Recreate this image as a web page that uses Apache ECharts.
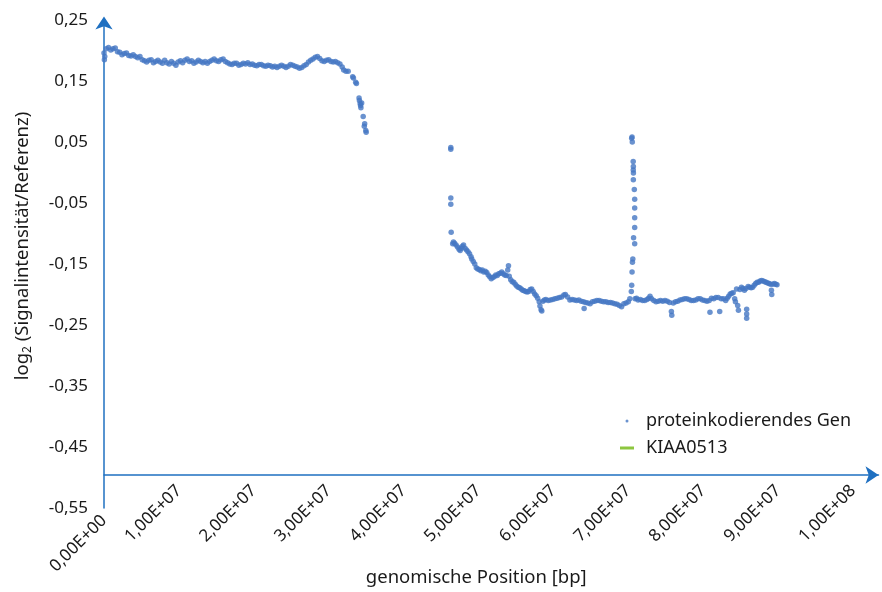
<!DOCTYPE html>
<html><head><meta charset="utf-8">
<script src="https://cdn.jsdelivr.net/npm/echarts@6/dist/echarts.min.js"></script>
<style>html,body{margin:0;padding:0;background:#fff}#c{width:882px;height:592px}</style>
</head><body><div id="c"></div>
<script>
// positions in Mb, values log2 ratio
const posTop = [0.0,0.05,0.1,0.3,0.6,0.9,1.2,1.5,1.8,2.1,2.4,2.7,3.0,3.3,3.6,3.9,4.2,4.5,4.8,5.1,5.4,5.7,6.0,6.3,6.6,6.9,7.2,7.5,7.8,8.1,8.4,8.7,9.0,9.3,9.6,9.9,10.2,10.5,10.8,11.1,11.4,11.7,12.0,12.3,12.6,12.9,13.2,13.5,13.8,14.1,14.4,14.7,15.0,15.3,15.6,15.9,16.2,16.5,16.8,17.1,17.4,17.7,18.0,18.3,18.6,18.9,19.2,19.5,19.8,20.1,20.4,20.7,21.0,21.3,21.6,21.9,22.2,22.5,22.8,23.1,23.4,23.7,24.0,24.3,24.6,24.9,25.2,25.5,25.8,26.1,26.4,26.7,27.0,27.3,27.6,27.9,28.2,28.5,28.8,29.1,29.4,29.7,30.0,30.3,30.6,30.9,31.2,31.5,31.8,32.0,32.3,32.6];
const valTop = [0.196,0.185,0.190,0.203,0.205,0.201,0.203,0.204,0.198,0.197,0.193,0.195,0.196,0.192,0.191,0.193,0.190,0.188,0.190,0.185,0.183,0.181,0.184,0.185,0.180,0.182,0.184,0.181,0.179,0.184,0.180,0.178,0.182,0.179,0.176,0.181,0.183,0.180,0.184,0.186,0.182,0.183,0.179,0.181,0.184,0.182,0.180,0.182,0.179,0.182,0.184,0.186,0.183,0.182,0.185,0.186,0.182,0.180,0.178,0.177,0.179,0.179,0.176,0.177,0.179,0.178,0.180,0.177,0.178,0.176,0.175,0.177,0.177,0.175,0.174,0.176,0.175,0.173,0.174,0.172,0.174,0.176,0.174,0.172,0.174,0.177,0.176,0.174,0.173,0.171,0.172,0.175,0.177,0.181,0.184,0.186,0.189,0.190,0.187,0.183,0.182,0.184,0.185,0.182,0.181,0.182,0.180,0.178,0.173,0.168,0.166,0.166];
const posDrop = [33.2,33.3,33.6,33.7,34.05,34.1,34.2,34.25,34.3,34.4,34.6,34.75,34.8,34.95,35.0];
const valDrop = [0.157,0.155,0.148,0.146,0.122,0.118,0.113,0.110,0.106,0.114,0.092,0.076,0.080,0.069,0.066];
const posIso = [46.3,46.3,46.3,46.3,46.35];
const valIso = [0.038,0.041,-0.042,-0.052,-0.098];
const posDesc = [46.55,46.65,46.8,47.0,47.2,47.4,47.55,47.7,47.85,48.0,48.2,48.4,48.6,48.8,49.0,49.1,49.3,49.5,49.7,49.9,50.1,50.3,50.5,50.7,50.9,51.1,51.3,51.5,51.7,51.9,52.1,52.3,52.5,52.7,52.9,53.1,53.3,53.5,53.7,53.9,54.0,54.1,54.3,54.5,54.7,54.9,55.1,55.3,55.5,55.7,55.9,56.1,56.3,56.5,56.7,56.9,57.1,57.3,57.5,57.7,57.9,58.1,58.2,58.35,58.45,58.6,58.8,59.0,59.3,59.6,59.9,60.2,60.5,60.8,61.1,61.4,61.6,61.9,62.2,62.5,62.8,63.1,63.4,63.7,64.0,64.1,64.3,64.6,64.9,65.2,65.5,65.8,66.1,66.4,66.7,67.0,67.3,67.6,67.9,68.2,68.5,68.8,69.1,69.4,69.7,70.0,70.2];
const valDesc = [-0.117,-0.114,-0.116,-0.119,-0.122,-0.126,-0.128,-0.124,-0.121,-0.119,-0.124,-0.127,-0.130,-0.133,-0.138,-0.142,-0.146,-0.150,-0.156,-0.158,-0.159,-0.161,-0.160,-0.163,-0.162,-0.164,-0.168,-0.171,-0.174,-0.172,-0.171,-0.168,-0.169,-0.166,-0.165,-0.163,-0.166,-0.168,-0.169,-0.160,-0.153,-0.170,-0.176,-0.179,-0.180,-0.183,-0.186,-0.188,-0.189,-0.191,-0.193,-0.194,-0.195,-0.196,-0.195,-0.192,-0.191,-0.195,-0.199,-0.202,-0.206,-0.212,-0.219,-0.225,-0.227,-0.211,-0.209,-0.208,-0.210,-0.209,-0.208,-0.207,-0.206,-0.205,-0.204,-0.201,-0.200,-0.204,-0.209,-0.208,-0.209,-0.210,-0.209,-0.211,-0.212,-0.223,-0.213,-0.214,-0.215,-0.212,-0.211,-0.210,-0.210,-0.211,-0.212,-0.212,-0.213,-0.213,-0.214,-0.215,-0.216,-0.218,-0.220,-0.215,-0.214,-0.212,-0.207];
const posSpike = [70.45,70.5,70.53,70.65,70.67,70.66,70.68,70.67,70.8,70.85,70.85,70.85,70.85,70.7,70.85,70.6,70.55,70.5,70.45,70.4];
const valSpike = [0.056,0.058,0.050,0.018,0.010,0.004,-0.001,-0.012,-0.028,-0.044,-0.058,-0.074,-0.090,-0.107,-0.117,-0.142,-0.147,-0.163,-0.185,-0.195];
const posRight = [70.9,71.1,71.3,71.6,71.9,72.2,72.5,72.7,72.9,73.1,73.4,73.7,74.0,74.3,74.6,74.9,75.2,75.5,75.75,75.8,76.0,76.3,76.6,76.9,77.2,77.5,77.8,78.1,78.4,78.7,79.0,79.3,79.6,79.9,80.2,80.5,80.8,80.9,81.1,81.4,81.7,82.0,82.2,82.4,82.7,83.0,83.2,83.4,83.6,83.8,84.0,84.2,84.3,84.45,84.6,84.7,84.9,85.1,85.3,85.5,85.7,85.8,85.8,85.8,86.0,86.2,86.4,86.6,86.8,87.0,87.2,87.4,87.6,87.8,88.0,88.2,88.4,88.6,88.8,89.0,89.1,89.15,89.3,89.5,89.7,89.85];
const valRight = [-0.207,-0.206,-0.209,-0.208,-0.210,-0.210,-0.208,-0.206,-0.203,-0.207,-0.210,-0.212,-0.211,-0.210,-0.211,-0.210,-0.211,-0.213,-0.228,-0.234,-0.214,-0.212,-0.211,-0.209,-0.208,-0.207,-0.207,-0.208,-0.210,-0.210,-0.209,-0.207,-0.207,-0.209,-0.210,-0.211,-0.210,-0.229,-0.206,-0.207,-0.205,-0.205,-0.228,-0.207,-0.207,-0.210,-0.206,-0.203,-0.199,-0.198,-0.197,-0.207,-0.212,-0.191,-0.218,-0.226,-0.192,-0.188,-0.190,-0.193,-0.190,-0.224,-0.232,-0.239,-0.187,-0.188,-0.189,-0.188,-0.185,-0.182,-0.180,-0.180,-0.178,-0.177,-0.178,-0.179,-0.180,-0.181,-0.182,-0.183,-0.193,-0.200,-0.183,-0.182,-0.183,-0.184];
const kiaaPos = [];
const kiaaVal = [];
const xTickLabels = ['0,00E+00','1,00E+07','2,00E+07','3,00E+07','4,00E+07','5,00E+07','6,00E+07','7,00E+07','8,00E+07','9,00E+07','1,00E+08'];
const yTickLabels = ['-0,55','-0,45','-0,35','-0,25','-0,15','-0,05','0,05','0,15','0,25'];

function zip(p, v) { return p.map((x, i) => [x * 1e6, v[i]]); }
const genePoints = [].concat(
  zip(posTop, valTop), zip(posDrop, valDrop), zip(posIso, valIso),
  zip(posDesc, valDesc), zip(posSpike, valSpike), zip(posRight, valRight));

const AX = '#1f70c1';
const FONT = "'Noto Sans', sans-serif";
const TXT = '#1a1a1a';
function xLab(v, onlyZero) {
  const i = Math.round(v / 1e7);
  if (Math.abs(v - i * 1e7) > 1 || i < 0 || i > 10) return '';
  if (onlyZero) return i === 0 ? xTickLabels[0] : '';
  return i === 0 ? '' : xTickLabels[i];
}
const chart = echarts.init(document.getElementById('c'));
chart.setOption({
  animation: false,
  backgroundColor: '#fff',
  grid: { left: 104, right: 3.5, top: 20, bottom: 81, containLabel: false },
  legend: {
    orient: 'vertical', left: 620, top: 412, padding: 0,
    itemWidth: 14, itemHeight: 3, itemGap: 9,
    textStyle: { fontFamily: FONT, fontSize: 18, color: TXT, padding: [0, 0, 0, 7] },
    data: [
      { name: 'proteinkodierendes Gen', icon: 'circle' },
      { name: 'KIAA0513', icon: 'rect' }
    ]
  },
  xAxis: [{
    type: 'value', min: 0, max: 1.034e8, interval: 1e7, position: 'bottom', offset: -33,
    axisLine: { onZero: false, lineStyle: { color: AX, width: 1.5 }, symbol: ['none', 'arrow'], symbolSize: [13, 13] },
    axisTick: { show: false }, splitLine: { show: false },
    axisLabel: { rotate: 45, margin: 13, fontFamily: FONT, fontSize: 17, color: TXT, showMaxLabel: false,
      formatter: v => xLab(v, false) },
    name: 'genomische Position [bp]', nameLocation: 'middle', nameGap: 93,
    nameTextStyle: { fontFamily: FONT, fontSize: 18.5, color: TXT, padding: [0, 30, 0, 0] }
  }, {
    type: 'value', min: 0, max: 1.034e8, interval: 1e7, position: 'bottom', offset: -33,
    axisLine: { show: false, onZero: false }, axisTick: { show: false }, splitLine: { show: false },
    axisLabel: { rotate: 45, margin: 43, fontFamily: FONT, fontSize: 17, color: TXT, showMaxLabel: false,
      formatter: v => xLab(v, true) }
  }],
  yAxis: {
    type: 'value', min: -0.55, max: 0.25, interval: 0.1,
    axisLine: { show: true, onZero: false, lineStyle: { color: AX, width: 1.5 }, symbol: ['none', 'arrow'], symbolSize: [13, 13], symbolOffset: [0, 3.5] },
    axisTick: { show: false }, splitLine: { show: false },
    axisLabel: { margin: 16, fontFamily: FONT, fontSize: 17, color: TXT,
      formatter: v => { const i = Math.round((v + 0.55) / 0.1); return yTickLabels[i] || ''; } },
    name: '{n|log}{s|2}{n| (Signalintensität/Referenz)}', nameLocation: 'middle', nameGap: 70,
    nameTextStyle: { fontFamily: FONT, color: TXT, padding: [0, 0, 0, 36],
      rich: { n: { fontFamily: FONT, fontSize: 18.5, color: TXT, lineHeight: 22 },
              s: { fontFamily: FONT, fontSize: 12, color: TXT, lineHeight: 12, verticalAlign: 'bottom' } } }
  },
  series: [{
    name: 'proteinkodierendes Gen', type: 'scatter', xAxisIndex: 0, yAxisIndex: 0,
    symbol: 'circle', symbolSize: 5.5, itemStyle: { color: '#4577c3' },
    data: genePoints
  }, {
    name: 'KIAA0513', type: 'line', xAxisIndex: 0, yAxisIndex: 0, showSymbol: false,
    itemStyle: { color: '#8dc63f' }, lineStyle: { color: '#8dc63f', width: 3 },
    data: zip(kiaaPos, kiaaVal)
  }]
});
</script></body></html>
